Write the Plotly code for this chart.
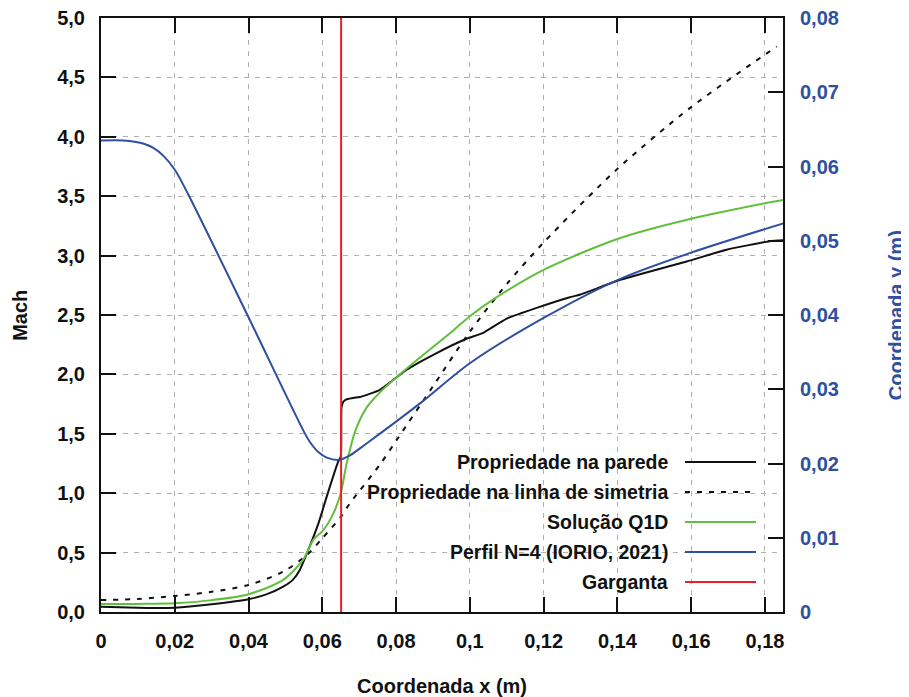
import plotly.graph_objects as go

# ---------------- data ----------------
x_wall = [0, 0.005, 0.01, 0.015, 0.02, 0.03, 0.04, 0.045, 0.0494, 0.052, 0.0539, 0.0562,
          0.059, 0.0612, 0.0643, 0.0650, 0.0652, 0.0657, 0.0665, 0.068, 0.0702, 0.0756,
          0.0829, 0.091, 0.0991, 0.1036, 0.110, 0.1181, 0.1271, 0.1298, 0.1402, 0.1588,
          0.1696, 0.1813, 0.1854]
M_wall = [0.045, 0.04, 0.035, 0.033, 0.035, 0.065, 0.107, 0.15, 0.213, 0.27, 0.354, 0.522,
          0.75, 0.971, 1.265, 1.31, 1.72, 1.77, 1.79, 1.80, 1.81, 1.87,
          2.04, 2.18, 2.30, 2.35, 2.47, 2.56, 2.65, 2.67, 2.79, 2.95,
          3.05, 3.12, 3.13]

x_sym = [0, 0.01, 0.02, 0.03, 0.04, 0.0494, 0.0558, 0.060, 0.065, 0.0675, 0.0756, 0.0802,
         0.09, 0.1, 0.11, 0.12, 0.14, 0.16, 0.1832]
M_sym = [0.10, 0.11, 0.135, 0.17, 0.227, 0.34, 0.48, 0.62, 0.80, 0.915, 1.24, 1.45,
         1.90, 2.36, 2.76, 3.11, 3.73, 4.25, 4.76]

x_q1d = [0, 0.01, 0.02, 0.03, 0.04, 0.0494, 0.0548, 0.0576, 0.0603, 0.063, 0.065, 0.0666,
         0.0689, 0.072, 0.076, 0.0829, 0.0955, 0.1, 0.1073, 0.12, 0.14, 0.16, 0.18, 0.1854]
M_q1d = [0.067, 0.068, 0.073, 0.10, 0.15, 0.27, 0.44, 0.61, 0.69, 0.83, 1.0, 1.25,
         1.52, 1.72, 1.86, 2.05, 2.37, 2.49, 2.65, 2.88, 3.14, 3.31, 3.44, 3.47]

x_prof = [0, 0.006, 0.0095, 0.012, 0.0142, 0.017, 0.0201, 0.0237, 0.0395, 0.0548, 0.0565,
          0.059, 0.0612, 0.0646, 0.0675, 0.072, 0.0865, 0.1, 0.12, 0.14, 0.16, 0.1854]
y_prof = [0.0635, 0.0635, 0.0633, 0.0630, 0.0625, 0.0614, 0.0595, 0.0562, 0.0402, 0.0245,
          0.0230, 0.0215, 0.0208, 0.0205, 0.0211, 0.0227, 0.0281, 0.0335, 0.0396, 0.0447,
          0.0484, 0.0524]

x_throat = 0.0651

x_ticks = [0, 0.02, 0.04, 0.06, 0.08, 0.1, 0.12, 0.14, 0.16, 0.18]
x_ticktext = ["0", "0,02", "0,04", "0,06", "0,08", "0,1", "0,12", "0,14", "0,16", "0,18"]
y_ticks = [0, 0.5, 1, 1.5, 2, 2.5, 3, 3.5, 4, 4.5, 5]
y_ticktext = ["0,0", "0,5", "1,0", "1,5", "2,0", "2,5", "3,0", "3,5", "4,0", "4,5", "5,0"]
y2_ticks = [0, 0.01, 0.02, 0.03, 0.04, 0.05, 0.06, 0.07, 0.08]
y2_ticktext = ["0", "0,01", "0,02", "0,03", "0,04", "0,05", "0,06", "0,07", "0,08"]

legend_labels = ["Propriedade na parede", "Propriedade na linha de simetria",
                 "Solução Q1D", "Perfil N=4 (IORIO, 2021)", "Garganta"]

# ---------------- styles ----------------
BLACK = "#111111"
GREEN = "#62bf3c"
BLUE = "#2f4f9f"
RED = "#ee1c25"
FONT = "Liberation Sans, Arial, Helvetica, sans-serif"
FS = 20
LW = 2

fig = go.Figure()
fig.add_trace(go.Scatter(x=x_wall, y=M_wall, mode="lines",
                         line=dict(color=BLACK, width=LW, shape="spline", smoothing=0.5),
                         showlegend=False))
fig.add_trace(go.Scatter(x=x_sym, y=M_sym, mode="lines",
                         line=dict(color=BLACK, width=LW, dash="5px,7px", shape="spline",
                                   smoothing=0.8), showlegend=False))
fig.add_trace(go.Scatter(x=x_q1d, y=M_q1d, mode="lines",
                         line=dict(color=GREEN, width=LW, shape="spline", smoothing=0.8),
                         showlegend=False))
fig.add_trace(go.Scatter(x=x_prof, y=y_prof, mode="lines", yaxis="y2",
                         line=dict(color=BLUE, width=LW, shape="spline", smoothing=0.8),
                         showlegend=False))
fig.add_trace(go.Scatter(x=[x_throat, x_throat], y=[0, 5], mode="lines",
                         line=dict(color=RED, width=LW), showlegend=False))

# opaque key box (hides grid behind the key)
shapes = [dict(type="rect", xref="paper", yref="paper", x0=0.179, x1=0.977, y0=0.0, y1=0.281,
               fillcolor="white", line=dict(width=0), layer="between")]

annotations = []
row_y = [0.2525, 0.2020, 0.1515, 0.1010, 0.0505]
samples = [dict(color=BLACK, dash="solid"), dict(color=BLACK, dash="5px,7px"),
           dict(color=GREEN, dash="solid"), dict(color=BLUE, dash="solid"),
           dict(color=RED, dash="solid")]
for lab, yy, st in zip(legend_labels, row_y, samples):
    annotations.append(dict(text=lab, xref="paper", yref="paper", x=0.8343, y=yy,
                            xanchor="right", yanchor="middle", showarrow=False,
                            font=dict(family=FONT, size=19.5, color=BLACK, weight="bold")))
    shapes.append(dict(type="line", xref="paper", yref="paper", x0=0.8563, x1=0.9604,
                       y0=yy, y1=yy, line=dict(color=st["color"], width=LW, dash=st["dash"]),
                       layer="above"))

# axis titles
annotations.append(dict(text="Mach", xref="paper", yref="paper", x=-0.119, y=0.5,
                        xanchor="center", yanchor="middle", textangle=-90, showarrow=False,
                        font=dict(family=FONT, size=FS, color=BLACK, weight="bold")))
annotations.append(dict(text="Coordenada x (m)", xref="paper", yref="paper", x=0.5, y=-0.124,
                        xanchor="center", yanchor="middle", showarrow=False,
                        font=dict(family=FONT, size=FS, color=BLACK, weight="bold")))
annotations.append(dict(text="Coordenada y (m)", xref="paper", yref="paper", x=1.166, y=0.5,
                        xanchor="center", yanchor="middle", textangle=-90, showarrow=False,
                        font=dict(family=FONT, size=FS, color=BLUE, weight="bold")))

grid = dict(showgrid=True, gridcolor="#b0b0b0", gridwidth=1, griddash="5px,6px")

fig.update_layout(
    width=909, height=697,
    margin=dict(l=93, r=134, t=10, b=93, autoexpand=False),
    paper_bgcolor="white", plot_bgcolor="white",
    showlegend=False,
    font=dict(family=FONT, size=FS, color=BLACK),
    xaxis=dict(range=[0, 0.1849], tickvals=x_ticks, ticktext=x_ticktext,
               ticks="inside", ticklen=15, tickwidth=2, tickcolor=BLACK,
               showline=True, linecolor=BLACK, linewidth=2, mirror="ticks",
               zeroline=False, ticklabelstandoff=10, automargin=False,
               ticklabeloverflow="allow",
               tickfont=dict(family=FONT, size=FS, color=BLACK, weight="bold"), **grid),
    yaxis=dict(range=[0, 5], tickvals=y_ticks, ticktext=y_ticktext,
               ticks="inside", ticklen=15, tickwidth=2, tickcolor=BLACK,
               showline=True, linecolor=BLACK, linewidth=2, mirror=True,
               zeroline=False, ticklabelstandoff=10, automargin=False,
               ticklabeloverflow="allow",
               tickfont=dict(family=FONT, size=FS, color=BLACK, weight="bold"), **grid),
    yaxis2=dict(range=[0, 0.08], tickvals=y2_ticks, ticktext=y2_ticktext,
                overlaying="y", side="right", anchor="x",
                ticks="inside", ticklen=15, tickwidth=2, tickcolor=BLACK,
                showline=True, linecolor=BLACK, linewidth=2, automargin=False,
                ticklabeloverflow="allow",
                showgrid=False, zeroline=False, ticklabelstandoff=11,
                tickfont=dict(family=FONT, size=FS, color=BLUE, weight="bold")),
    shapes=shapes,
    annotations=annotations,
)

fig.write_html("out.html")
